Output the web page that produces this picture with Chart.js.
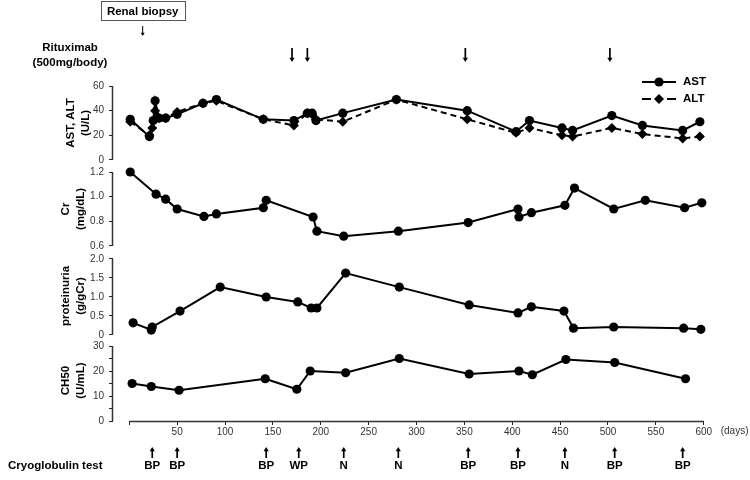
<!DOCTYPE html>
<html>
<head>
<meta charset="utf-8">
<script src="https://cdn.jsdelivr.net/npm/chart.js@4.4.0/dist/chart.umd.min.js"></script>
<style>
  body { margin: 0; background: #fff; }
</style>
</head>
<body>
<canvas id="myChart" width="750" height="480"></canvas>
<script>
// days from start of treatment
var astDays = [1, 21, 25, 27, 31, 38, 50, 77, 91, 140, 172, 186, 191, 195, 223, 279, 353, 404, 418, 452, 463, 504, 536, 578, 596];
var astValues = [33, 19, 32, 48, 34, 34, 37, 46, 49, 33, 32, 38, 38, 32, 38, 49, 40, 23, 32, 26, 24, 36, 28, 24, 31];
var altDays = [1, 21, 24, 27, 31, 38, 50, 77, 91, 140, 172, 186, 191, 195, 223, 279, 353, 404, 418, 452, 463, 504, 536, 578, 596];
var altValues = [31, 20, 26, 40, 34, 34, 39, 46, 48, 33, 28, 38, 37, 33, 31, 49, 33, 22, 26, 20, 19, 26, 21, 17.5, 19];

var crDays = [1, 28, 38, 50, 78, 91, 140, 143, 192, 196, 224, 281, 354, 406, 407, 420, 455, 465, 506, 539, 580, 598];
var crValues = [1.20, 1.02, 0.98, 0.90, 0.84, 0.86, 0.91, 0.97, 0.835, 0.72, 0.68, 0.72, 0.79, 0.90, 0.835, 0.87, 0.93, 1.07, 0.90, 0.97, 0.91, 0.95];

var protDays = [4, 23, 24, 53, 95, 143, 176, 190, 196, 226, 282, 355, 406, 420, 454, 464, 506, 579, 597];
var protValues = [0.32, 0.13, 0.21, 0.63, 1.26, 1.0, 0.87, 0.71, 0.71, 1.63, 1.26, 0.79, 0.58, 0.74, 0.63, 0.18, 0.21, 0.18, 0.15];

var ch50Days = [3, 23, 52, 142, 175, 189, 226, 282, 355, 407, 421, 456, 507, 581];
var ch50Values = [15, 13.8, 12.3, 16.9, 12.7, 20, 19.3, 25, 18.8, 20, 18.5, 24.6, 23.4, 16.9];

var dayTicks = [0, 50, 100, 150, 200, 250, 300, 350, 400, 450, 500, 550, 600];
var astTicks = [0, 20, 40, 60];
var crTicks = [0.6, 0.8, 1.0, 1.2];
var protTicks = [0, 0.5, 1.0, 1.5, 2.0];
var ch50Ticks = [0, 5, 10, 15, 20, 25, 30];

var biopsyDay = 14;
var rituximabDays = [170, 186, 351, 502];
var cryoDays = [24, 50, 143, 177, 224, 281, 354, 406, 455, 507, 578];
var cryoResults = ['BP', 'BP', 'BP', 'WP', 'N', 'N', 'BP', 'BP', 'N', 'BP', 'BP'];

var FONT = 'Arial, "Liberation Sans", Helvetica, sans-serif';
Chart.defaults.font.family = FONT;
Chart.defaults.color = '#333';

function pts(days, vals) {
  return days.map(function (d, i) { return {x: d, y: vals[i]}; });
}

function series(label, days, vals, axis, extra) {
  var ds = {
    label: label, data: pts(days, vals), yAxisID: axis,
    borderColor: '#000', backgroundColor: '#000', borderWidth: 2,
    pointRadius: 4.6, pointHoverRadius: 4.6, pointBorderWidth: 0,
    pointBackgroundColor: '#000', tension: 0
  };
  return Object.assign(ds, extra || {});
}

function yAxis(range, ticks, title, weight, stackWeight, titlePad, fmt) {
  return {
    type: 'linear', position: 'left', stack: 'panels', stackWeight: stackWeight, weight: weight,
    min: range[0], max: range[1],
    afterBuildTicks: function (s) { s.ticks = ticks.map(function (v) { return {value: v}; }); },
    afterFit: function (s) { s.width = 113; },
    border: {display: false},
    grid: {drawOnChartArea: false, drawTicks: true, tickLength: 4, color: '#222', lineWidth: 1},
    ticks: {padding: 5, autoSkip: false, font: {size: 10}, color: '#333', callback: fmt},
    title: {display: true, text: title, color: '#000',
      font: {size: 11.5, weight: 'bold', lineHeight: 1.3}, padding: {top: titlePad, bottom: 0}}
  };
}

// arrows, labels, axis lines and the legend
var notes = {
  id: 'notes',
  afterDraw: function (chart) {
    var ctx = chart.ctx;
    var xs = chart.scales.x;
    ctx.save();

    // axis lines only over the tick range
    ctx.strokeStyle = '#333';
    ctx.lineWidth = 1.5;
    [['ast', astTicks], ['cr', crTicks], ['prot', protTicks], ['ch50', ch50Ticks]].forEach(function (p) {
      var s = chart.scales[p[0]];
      ctx.beginPath();
      ctx.moveTo(s.right - 0.5, s.getPixelForValue(p[1][p[1].length - 1]));
      ctx.lineTo(s.right - 0.5, s.getPixelForValue(p[1][0]));
      ctx.stroke();
    });
    ctx.beginPath();
    ctx.moveTo(xs.getPixelForValue(dayTicks[0]), xs.top + 0.5);
    ctx.lineTo(xs.getPixelForValue(dayTicks[dayTicks.length - 1]), xs.top + 0.5);
    ctx.stroke();

    ctx.fillStyle = '#333';
    ctx.font = '10px ' + FONT;
    ctx.textAlign = 'left';
    ctx.textBaseline = 'middle';
    ctx.fillText('(days)', xs.getPixelForValue(dayTicks[dayTicks.length - 1]) + 17, 431);

    function arrow(x, y0, y1, head, lw) {
      var dir = y1 > y0 ? 1 : -1;
      ctx.lineWidth = lw;
      ctx.beginPath();
      ctx.moveTo(x, y0);
      ctx.lineTo(x, y1 - dir * head * 1.2);
      ctx.stroke();
      ctx.beginPath();
      ctx.moveTo(x, y1);
      ctx.lineTo(x - head, y1 - dir * head * 1.6);
      ctx.lineTo(x + head, y1 - dir * head * 1.6);
      ctx.closePath();
      ctx.fill();
    }

    ctx.fillStyle = '#000';
    ctx.strokeStyle = '#000';

    // renal biopsy
    var bx = xs.getPixelForValue(biopsyDay);
    ctx.font = 'bold 11.5px ' + FONT;
    ctx.textAlign = 'center';
    var tw = ctx.measureText('Renal biopsy').width;
    ctx.lineWidth = 1;
    ctx.strokeStyle = '#555';
    ctx.strokeRect(Math.round(bx - tw / 2 - 6) + 0.5, 1.5, Math.round(tw + 12), 19);
    ctx.fillText('Renal biopsy', bx, 11.5);
    ctx.strokeStyle = '#000';
    arrow(bx, 26, 36, 2, 1);

    // rituximab
    ctx.textAlign = 'center';
    ctx.fillText('Rituximab', 70, 48);
    ctx.fillText('(500mg/body)', 70, 63);
    rituximabDays.forEach(function (d) {
      arrow(xs.getPixelForValue(d), 48, 62, 2.6, 1.7);
    });

    // cryoglobulin
    ctx.textAlign = 'left';
    ctx.fillText('Cryoglobulin test', 8, 466);
    ctx.textAlign = 'center';
    cryoDays.forEach(function (d, i) {
      var px = xs.getPixelForValue(d);
      arrow(px, 458, 447, 2.6, 1.7);
      ctx.fillText(cryoResults[i], px, 466);
    });

    // legend
    chart.data.datasets.slice(0, 2).forEach(function (ds, i) {
      var y = 82 + i * 17;
      ctx.lineWidth = 2;
      ctx.beginPath();
      if (ds.borderDash) {
        ctx.moveTo(642, y); ctx.lineTo(651, y);
        ctx.moveTo(667, y); ctx.lineTo(676, y);
      } else {
        ctx.moveTo(642, y); ctx.lineTo(676, y);
      }
      ctx.stroke();
      ctx.beginPath();
      if (ds.pointStyle === 'rectRot') {
        var r = ds.pointRadius;
        ctx.moveTo(659, y - r); ctx.lineTo(659 + r, y); ctx.lineTo(659, y + r); ctx.lineTo(659 - r, y);
        ctx.closePath();
      } else {
        ctx.arc(659, y, ds.pointRadius, 0, Math.PI * 2);
      }
      ctx.fill();
      ctx.textAlign = 'left';
      ctx.textBaseline = 'middle';
      ctx.fillText(ds.label, 683, y);
    });

    ctx.restore();
  }
};

var ctx = document.getElementById('myChart').getContext('2d');
var myChart = new Chart(ctx, {
  type: 'line',
  data: {
    datasets: [
      series('AST', astDays, astValues, 'ast', {pointStyle: 'circle'}),
      series('ALT', altDays, altValues, 'ast', {pointStyle: 'rectRot', pointRadius: 5, pointHoverRadius: 5, borderDash: [6, 4]}),
      series('Cr', crDays, crValues, 'cr'),
      series('proteinuria', protDays, protValues, 'prot'),
      series('CH50', ch50Days, ch50Values, 'ch50')
    ]
  },
  options: {
    responsive: false,
    animation: false,
    layout: {padding: {left: 0, right: 30, top: 80, bottom: 0}},
    plugins: {legend: {display: false}, tooltip: {enabled: false}},
    scales: {
      x: {
        type: 'linear', min: -17, max: 617,
        afterBuildTicks: function (s) { s.ticks = dayTicks.map(function (v) { return {value: v}; }); },
        afterFit: function (s) { s.height = 59; },
        border: {display: false},
        grid: {drawOnChartArea: false, drawTicks: true, tickLength: 4, color: '#222'},
        ticks: {padding: 1, autoSkip: false, maxRotation: 0, font: {size: 10}, color: '#333',
          callback: function (v) { return v === 0 ? '' : String(v); }}
      },
      ast: yAxis([-4.865, 64.865], astTicks, ['AST, ALT', '(U/L)'], 4, 86, 63,
        function (v) { return String(v); }),
      cr: yAxis([0.5513, 1.2487], crTicks, ['Cr', '(mg/dL)'], 3, 86, 58,
        function (v) { return v.toFixed(1); }),
      prot: yAxis([-0.132, 2.184], protTicks, ['proteinuria', '(g/gCr)'], 2, 88, 58,
        function (v) { return v === 0 ? '0' : v.toFixed(1); }),
      ch50: yAxis([0, 32.4], ch50Ticks, ['CH50', '(U/mL)'], 1, 81, 58,
        function (v) { return v % 10 === 0 ? String(v) : ''; })
    }
  },
  plugins: [notes]
});
</script>
</body>
</html>
